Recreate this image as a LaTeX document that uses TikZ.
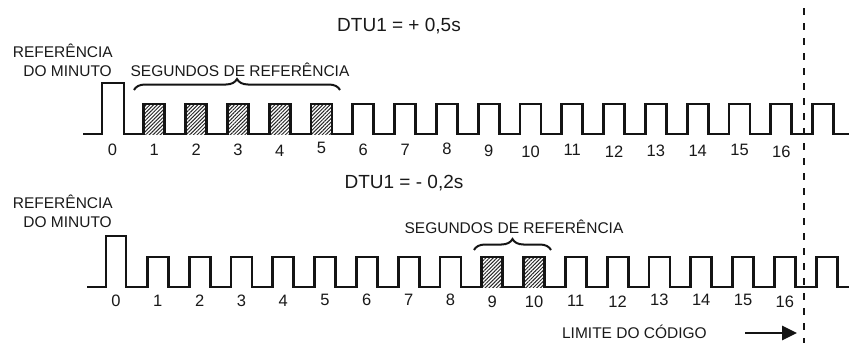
\documentclass[tikz,border=0pt]{standalone}
\usepackage{fontspec}
\setmainfont{Liberation Sans}
\usetikzlibrary{patterns.meta,decorations.pathreplacing,arrows.meta}
\begin{document}
\begin{tikzpicture}[x=1pt,y=-1pt,
  wave/.style={line width=2.8pt, draw=black!92, line join=miter},
  lbl/.style={font=\fontsize{15.5}{18}\selectfont, inner sep=0pt, text=black!90},
  num/.style={font=\fontsize{16.5}{19}\selectfont, inner sep=0pt, text=black!90, anchor=base},
  dtu/.style={font=\fontsize{19}{22}\selectfont, inner sep=0pt, anchor=base, text=black!90},
  hatch/.style={pattern={Lines[angle=45,distance=2.6pt,line width=1pt]}, pattern color=black!85},
  bracestyle/.style={decorate, decoration={brace, amplitude=11pt}, line width=2pt, draw=black!92},
  limit/.style={line width=2.8pt, dash pattern=on 7pt off 8pt, draw=black!92},
  arrowstyle/.style={line width=2.8pt, draw=black!92, -{Triangle[length=15pt,width=14pt]}}
  ]
\useasboundingbox (0,0) rectangle (849,343);

% ---------- top row ----------
\foreach \k in {1,...,5}
  \fill[hatch] ({102+41.8*\k},134) rectangle ({123+41.8*\k},104);
\draw[wave] (83,134) -- (102,134) -- (102,83) -- (124,83) -- (124,134)
  \foreach \k in {1,...,17} { -- ({102+41.8*\k},134) -- ({102+41.8*\k},104)
     -- ({123+41.8*\k},104) -- ({123+41.8*\k},134) } -- (851,134);
\foreach \k/\yb in {0/155,1/155,2/155,3/155,4/156,5/153,6/155,7/155,8/154,9/156,10/157,11/155,12/157,13/156,14/156,15/155,16/157}
  \node[num] (t\k) at ({112.5+41.8*\k},\yb) {\k};

\node[lbl, anchor=base east] (refa1) at (113,57) {REFERÊNCIA};
\node[lbl, anchor=base east] (refa2) at (112,76) {DO MINUTO};
\node[lbl, anchor=base] (sega) at (240,76) {SEGUNDOS DE REFERÊNCIA};
\coordinate (bra1) at (134,90);
\coordinate (bra2) at (340,90);
\draw[bracestyle] (bra1) -- (bra2);
\node[dtu] (dtua) at (399,31) {DTU1 = + 0,5s};

% ---------- bottom row ----------
\foreach \k in {9,10}
  \fill[hatch] ({105.5+41.8*\k},287) rectangle ({126.5+41.8*\k},257);
\draw[wave] (87,287) -- (106,287) -- (106,236) -- (126,236) -- (126,287)
  \foreach \k in {1,...,17} { -- ({105.5+41.8*\k},287) -- ({105.5+41.8*\k},257)
     -- ({126.5+41.8*\k},257) -- ({126.5+41.8*\k},287) } -- (851,287);
\foreach \k/\yb in {0/306,1/306,2/306,3/306,4/306,5/305,6/305,7/305,8/305,9/307,10/307,11/306,12/307,13/305,14/305,15/305,16/307}
  \node[num] (b\k) at ({116+41.8*\k},\yb) {\k};

\node[lbl, anchor=base east] (refb1) at (113,208) {REFERÊNCIA};
\node[lbl, anchor=base east] (refb2) at (112,227) {DO MINUTO};
\node[lbl, anchor=base] (segb) at (514,233) {SEGUNDOS DE REFERÊNCIA};
\coordinate (brb1) at (474,250);
\coordinate (brb2) at (551,250);
\draw[bracestyle] (brb1) -- (brb2);
\node[dtu] (dtub) at (404,188) {DTU1 = - 0,2s};

% ---------- limit ----------
\coordinate (limT) at (804,8);
\coordinate (limB) at (804,343);
\draw[limit] (limT) -- (limB);
\node[lbl, anchor=base east] (lim) at (707,338) {LIMITE DO CÓDIGO};
\coordinate (arA) at (745,333);
\coordinate (arB) at (797,333);
\draw[arrowstyle] (arA) -- (arB);
\end{tikzpicture}
\end{document}
